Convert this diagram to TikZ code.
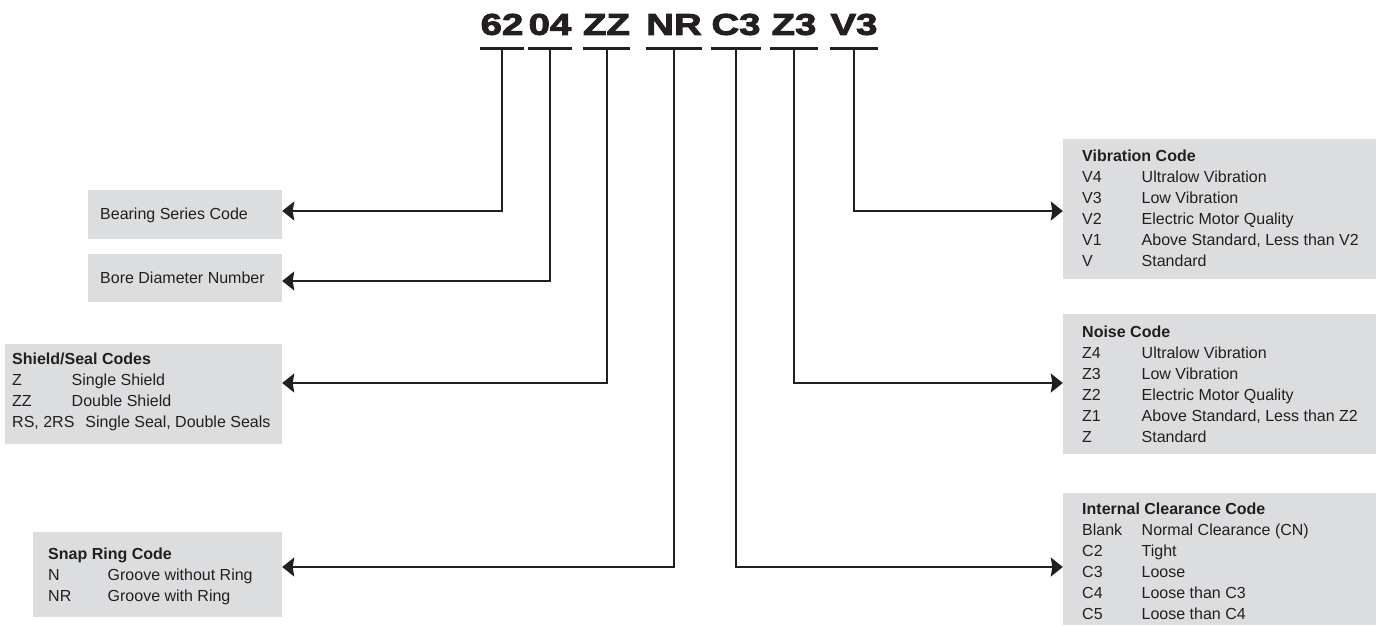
\documentclass[tikz,border=0pt]{standalone}
\usepackage{fontspec}
\setmainfont{Liberation Sans}
\newfontfamily\codefont{Liberation Sans Bold}[FakeStretch=1.28, FakeBold=3]
\usepackage{tikz}
\usetikzlibrary{arrows.meta, positioning}
\usepackage{xcolor}
\definecolor{boxgray}{RGB}{220,221,223}
\definecolor{ink}{RGB}{35,31,32}
\newcommand\coderow[2]{\makebox[59.5pt][l]{#1}#2}
\tikzset{
  codeword/.style={font=\codefont\fontsize{30}{30}\selectfont, text=ink,
    inner sep=0pt, text depth=13.5pt, anchor=south},
  uline/.style={line width=3.75pt, draw=ink},
  conn/.style={line width=2pt, draw=ink,
    -{Stealth[length=12pt, width=19pt, inset=1.5pt]}},
  codebox/.style={fill=boxgray, inner sep=0pt},
  boxtext/.style={anchor=west, align=left, inner sep=0pt, text=ink,
    font=\fontsize{16}{21}\selectfont},
}

\begin{document}
\begin{tikzpicture}[x=1pt, y=-1pt]
  \useasboundingbox (0,0) rectangle (1381,626);
  % part number
  \node[codeword, minimum width=42pt] (c62) at (502,48.5) {62};
  \node[codeword, minimum width=41pt] (c04) at (550,48.5) {04};
  \node[codeword, minimum width=47pt] (cZZ) at (606.5,48.5) {ZZ};
  \node[codeword, minimum width=56pt] (cNR) at (674,48.5) {NR};
  \node[codeword, minimum width=48pt] (cC3) at (736,48.5) {C3};
  \node[codeword, minimum width=48pt] (cZ3) at (794,48.5) {Z3};
  \node[codeword, minimum width=41pt] (cV3) at (854,48.5) {V3};
  \foreach \n in {c62,c04,cZZ,cNR,cC3,cZ3,cV3}
    \draw[uline] (\n.south west) -- (\n.south east);

  % left boxes
  \node[codebox, minimum width=194pt, minimum height=49pt] (series) at (185,214.5) {};
  \node[boxtext] (seriestxt) at (100,215) {Bearing Series Code};
  \node[codebox, minimum width=194pt, minimum height=48pt] (bore) at (185,278) {};
  \node[boxtext] (boretxt) at (100,278) {Bore Diameter Number};
  \node[codebox, minimum width=277pt, minimum height=100pt] (shield) at (143.5,394) {};
  \node[boxtext] (shieldtxt) at (12,391.5) {\textbf{Shield/Seal Codes}\\
    \coderow{Z}{Single Shield}\\
    \coderow{ZZ}{Double Shield}\\
    RS, 2RS\hspace{11pt}Single Seal, Double Seals};
  \node[codebox, minimum width=249pt, minimum height=85pt] (snap) at (157.5,574.5) {};
  \node[boxtext] (snaptxt) at (48,576) {\textbf{Snap Ring Code}\\
    \coderow{N}{Groove without Ring}\\
    \coderow{NR}{Groove with Ring}};

  % right boxes
  \node[codebox, minimum width=313pt, minimum height=140pt] (vib) at (1219.5,209) {};
  \node[boxtext] (vibtxt) at (1082,208.5) {\textbf{Vibration Code}\\
    \coderow{V4}{Ultralow Vibration}\\
    \coderow{V3}{Low Vibration}\\
    \coderow{V2}{Electric Motor Quality}\\
    \coderow{V1}{Above Standard, Less than V2}\\
    \coderow{V}{Standard}};
  \node[codebox, minimum width=313pt, minimum height=140pt] (noise) at (1219.5,384) {};
  \node[boxtext] (noisetxt) at (1082,384.5) {\textbf{Noise Code}\\
    \coderow{Z4}{Ultralow Vibration}\\
    \coderow{Z3}{Low Vibration}\\
    \coderow{Z2}{Electric Motor Quality}\\
    \coderow{Z1}{Above Standard, Less than Z2}\\
    \coderow{Z}{Standard}};
  \node[codebox, minimum width=313pt, minimum height=132pt] (clear) at (1219.5,559) {};
  \node[boxtext] (cleartxt) at (1082,561.5) {\textbf{Internal Clearance Code}\\
    \coderow{Blank}{Normal Clearance (CN)}\\
    \coderow{C2}{Tight}\\
    \coderow{C3}{Loose}\\
    \coderow{C4}{Loose than C3}\\
    \coderow{C5}{Loose than C4}};

  % leaders
  \draw[conn] (c62.south) |- ([yshift=3.5pt]series.east);
  \draw[conn] (c04.south) |- ([yshift=-3pt]bore.east);
  \draw[conn] (cZZ.south) |- ([yshift=11pt]shield.east);
  \draw[conn] (cNR.south) |- ([yshift=7.5pt]snap.east);
  \draw[conn] (cC3.south) |- ([yshift=-8pt]clear.west);
  \draw[conn] (cZ3.south) |- ([yshift=1pt]noise.west);
  \draw[conn] (cV3.south) |- ([yshift=-2pt]vib.west);
\end{tikzpicture}
\end{document}
